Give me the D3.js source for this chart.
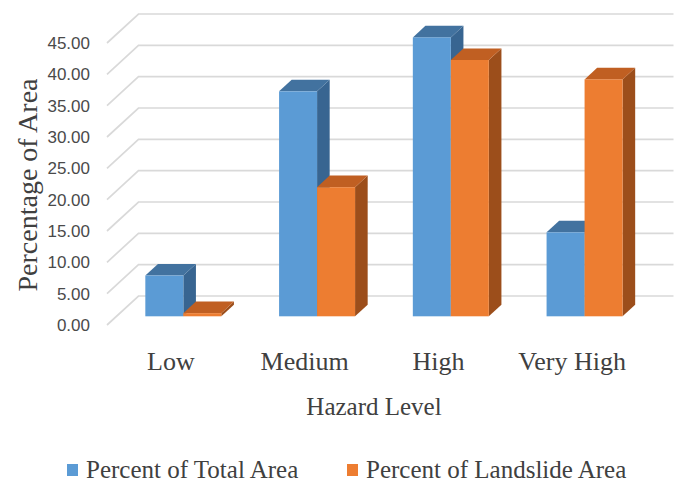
<!DOCTYPE html>
<html>
<head>
<meta charset="utf-8">
<script src="https://cdn.jsdelivr.net/npm/d3@7"></script>
<style>
  html, body { margin: 0; padding: 0; background: #fff; }
  svg { display: block; }
</style>
</head>
<body>
<svg id="chart" width="681" height="490"></svg>
<script>
// Hazard level categories and the two percentage series
const categories = ["Low", "Medium", "High", "Very High"];
const seriesNames = ["Percent of Total Area", "Percent of Landslide Area"];
const totalArea = [6.5, 35.9, 44.5, 13.4];
const landslideArea = [0.5, 20.6, 40.9, 37.8];
const yTicks = [0, 5, 10, 15, 20, 25, 30, 35, 40, 45];

const rows = categories.map((c, i) => ({
  category: c,
  values: [
    { key: seriesNames[0], value: totalArea[i] },
    { key: seriesNames[1], value: landslideArea[i] }
  ]
}));

// faces: front, top, side
const palette = {
  [seriesNames[0]]: { front: "#5b9bd5", top: "#42729f", side: "#386591" },
  [seriesNames[1]]: { front: "#ed7d31", top: "#c05f22", side: "#9c4e1b" }
};

const svg = d3.select("#chart");

// oblique projection of the chart box
const DX = 31.5, DY = -29;          // full-depth offset
const z0 = 0.30, z1 = 0.70;         // depth span of the columns
const frontLeft = 107, frontRight = 642;

const y = d3.scaleLinear().domain([0, 45]).range([325, 43]);
const x0 = d3.scaleBand().domain(categories).range([frontLeft, frontRight]);
const x1 = d3.scaleBand().domain(seriesNames).range([0, x0.bandwidth()]).paddingOuter(0.76);

const P = (x, v, z) => [x + z * DX, y(v) + z * DY];

// side wall diagonals and back wall gridlines
const grid = svg.append("g").attr("stroke", "#d9d9d9").attr("stroke-width", 1.7).attr("fill", "none");
yTicks.forEach(t => {
  const a = P(frontLeft, t, 0), b = P(frontLeft, t, 1), c = P(frontRight, t, 1);
  grid.append("path").attr("d", `M${a[0]},${a[1]}L${b[0]},${b[1]}L${c[0]},${c[1]}`);
});

// columns, drawn left to right so neighbours overlap correctly
const bars = svg.append("g");
rows.forEach(r => {
  r.values.forEach(d => {
    const col = palette[d.key];
    const xl = x0(r.category) + x1(d.key);
    const xr = xl + x1.bandwidth();
    const ftl = P(xl, d.value, z0), ftr = P(xr, d.value, z0);
    const fbr = P(xr, 0, z0);
    const btl = P(xl, d.value, z1), btr = P(xr, d.value, z1);
    const bbr = P(xr, 0, z1);
    const g = bars.append("g");
    g.append("polygon").attr("points", [ftr, btr, bbr, fbr].map(p => p.join(",")).join(" "))
      .attr("fill", col.side);
    g.append("polygon").attr("points", [ftl, btl, btr, ftr].map(p => p.join(",")).join(" "))
      .attr("fill", col.top);
    g.append("rect").attr("x", ftl[0]).attr("y", ftl[1])
      .attr("width", ftr[0] - ftl[0]).attr("height", fbr[1] - ftr[1])
      .attr("fill", col.front);
  });
});

// value axis labels
const yAxis = svg.append("g").attr("transform", "translate(90,0)")
  .call(d3.axisLeft(y).tickValues(yTicks).tickFormat(d3.format(".2f")).tickSize(0).tickPadding(0));
yAxis.select(".domain").remove();
yAxis.selectAll("text").attr("fill", "#4a4a4a")
  .style("font-family", "'Liberation Sans', Arial, sans-serif").style("font-size", "17px");

// category labels
const xAxis = svg.append("g").attr("transform", "translate(-3,352)")
  .call(d3.axisBottom(x0).tickSize(0).tickPadding(0));
xAxis.select(".domain").remove();
xAxis.selectAll("text").attr("fill", "#404040")
  .style("font-family", "'Liberation Serif', 'Times New Roman', serif").style("font-size", "26px");

// axis titles
svg.append("text").attr("x", 374).attr("y", 415).attr("text-anchor", "middle")
  .attr("fill", "#404040").style("font-family", "'Liberation Serif', 'Times New Roman', serif")
  .style("font-size", "25px").text("Hazard Level");

svg.append("text").attr("transform", "translate(37,185) rotate(-90)").attr("text-anchor", "middle")
  .attr("fill", "#404040").style("font-family", "'Liberation Serif', 'Times New Roman', serif")
  .style("font-size", "28px").text("Percentage of Area");

// legend
const legendPos = [{ sx: 67, tx: 86 }, { sx: 347, tx: 366 }];
const legend = svg.append("g");
seriesNames.forEach((s, i) => {
  legend.append("rect").attr("x", legendPos[i].sx).attr("y", 464).attr("width", 11).attr("height", 12)
    .attr("fill", palette[s].front);
  legend.append("text").attr("x", legendPos[i].tx).attr("y", 478).attr("fill", "#404040")
    .style("font-family", "'Liberation Serif', 'Times New Roman', serif").style("font-size", "25px")
    .text(s);
});
</script>
</body>
</html>
